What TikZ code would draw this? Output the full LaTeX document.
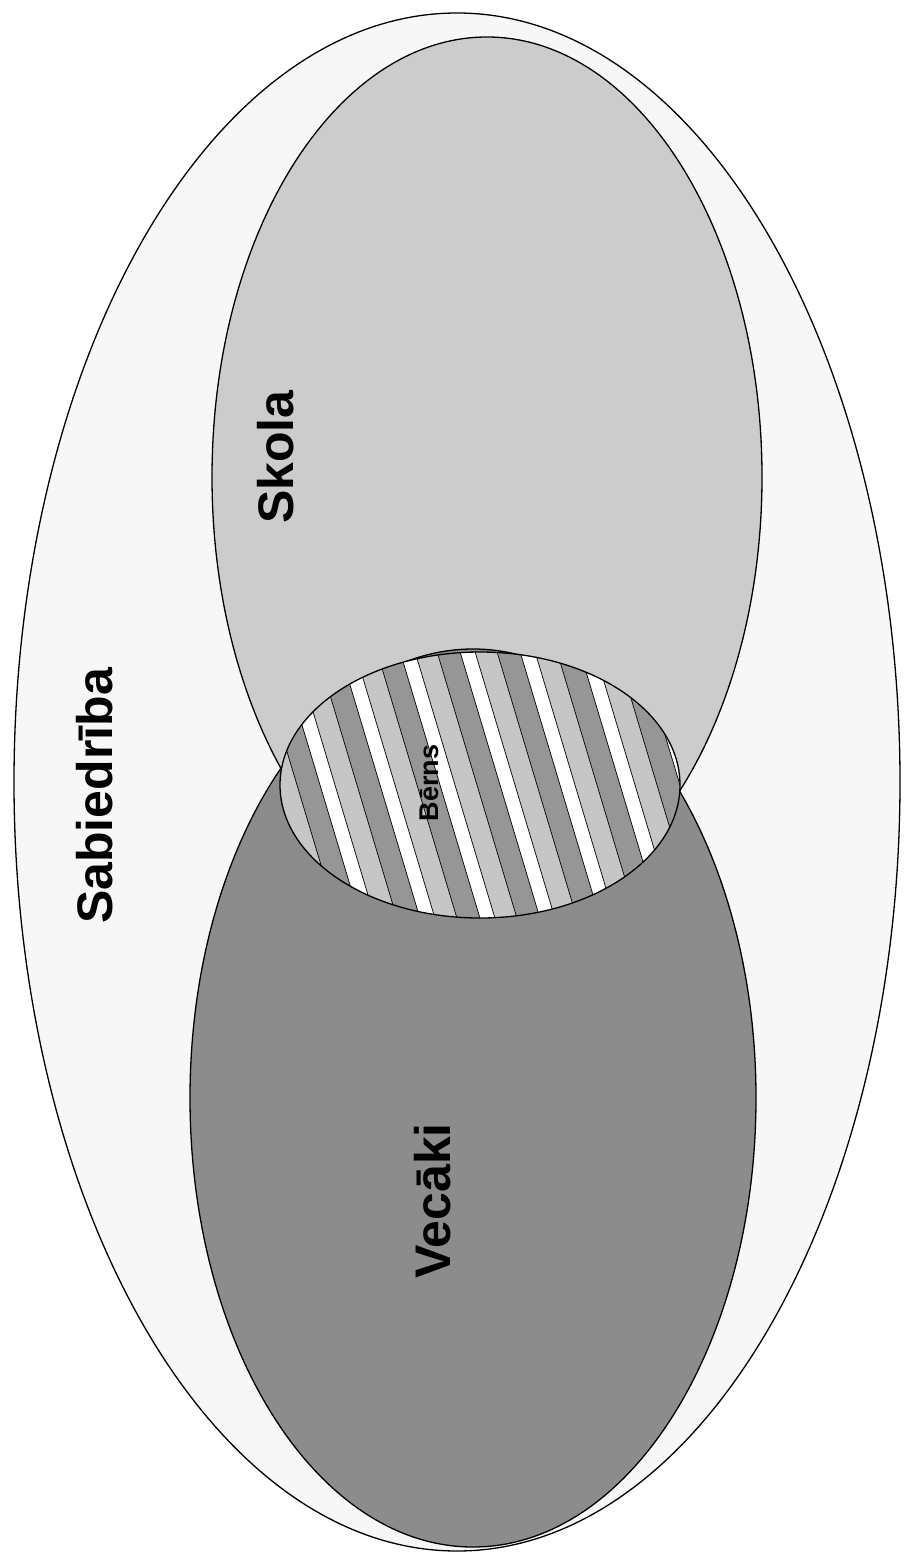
\documentclass[tikz,border=0pt]{standalone}
\usepackage{fontspec}
\setmainfont{Liberation Sans}
\definecolor{Society}{RGB}{247,247,247}
\definecolor{SchoolGray}{RGB}{204,204,204}
\definecolor{ParentGray}{RGB}{140,140,140}
\definecolor{StripeLight}{RGB}{198,198,198}
\definecolor{StripeDark}{RGB}{150,150,150}
\usetikzlibrary{positioning}

\begin{document}
\begin{tikzpicture}[x=1pt, y=-1pt,
    rim/.style={draw=black, line width=1.3pt},
    stripeline/.style={draw=black, line width=0.7pt},
    biglabel/.style={font=\fontsize{50}{60}\selectfont\bfseries, rotate=90, anchor=base, inner sep=0pt},
    smalllabel/.style={font=\fontsize{27}{32}\selectfont\bfseries, rotate=90, anchor=base, inner sep=0pt}
]
\useasboundingbox (0,0) rectangle (904,1554);
% Society
\draw[rim, fill=Society] (457,782) ellipse [x radius=443pt, y radius=769pt];
% School
\draw[rim, fill=SchoolGray] (487,477) ellipse [x radius=275pt, y radius=440pt];
% Parents
\draw[rim, fill=ParentGray] (473,1098) ellipse [x radius=283pt, y radius=449pt];
% Child: striped overlap
\begin{scope}
  \clip (480,785) ellipse [x radius=200pt, y radius=133pt];
  \fill[white] (480,785) ellipse [x radius=200pt, y radius=133pt];
  \foreach \s in {-1,...,9} {
    \pgfmathsetmacro{\xw}{200+60*\s}
    \fill[StripeLight] ({\xw+15-45},635) -- ({\xw+37-45},635) -- ({\xw+37+45},935) -- ({\xw+15+45},935) -- cycle;
    \fill[StripeDark] ({\xw+37-45},635) -- ({\xw+60-45},635) -- ({\xw+60+45},935) -- ({\xw+37+45},935) -- cycle;
    \foreach \d in {0,15,37}
      \draw[stripeline] ({\xw+\d-45},635) -- ({\xw+\d+45},935);
  }
\end{scope}
\draw[rim] (480,785) ellipse [x radius=200pt, y radius=133pt];
% Labels
\node[biglabel] (sabiedriba) at (112,796) {Sabiedrība};
\node[biglabel] (skola) at (293,457) {Skola};
\node[biglabel] (vecaki) at (450,1201) {Vecāki};
\node[smalllabel] (berns) at (438,783) {Bērns};
\end{tikzpicture}
\end{document}
